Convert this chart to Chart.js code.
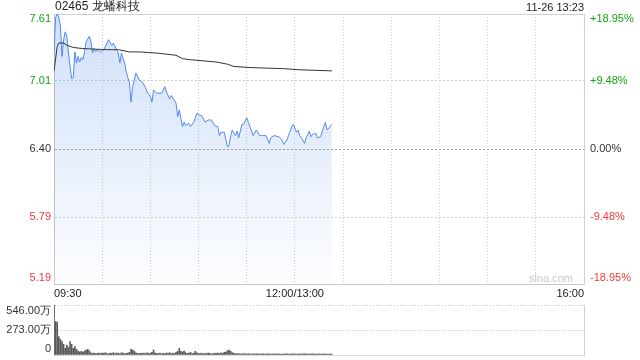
<!DOCTYPE html>
<html>
<head>
<meta charset="utf-8">
<script src="https://cdn.jsdelivr.net/npm/chart.js@4.4.0/dist/chart.umd.min.js"></script>
<style>
  body { margin: 0; background: #fff; }
  #wrap { position: relative; width: 640px; height: 360px; }
  #priceChart { position: absolute; left: 0; top: 0; }
  #volChart { position: absolute; left: 0; top: 300px; }
</style>
</head>
<body>
<div id="wrap">
  <canvas id="priceChart" width="640" height="300"></canvas>
  <canvas id="volChart" width="640" height="60"></canvas>
</div>
<script>
// minutes since 09:30 (lunch break removed)
const priceMinutes = [0, 1, 2, 3, 4, 5, 6, 7, 8, 9, 11, 12, 13, 14, 15, 16, 17, 18, 19, 20, 22, 23, 24, 25, 26, 27, 29, 31, 33, 34, 36, 37, 39, 40, 41, 42, 43, 44, 45, 47, 48, 49, 51, 53, 55, 57, 58, 60, 61, 62, 64, 67, 69, 70, 72, 73, 76, 77, 78, 80, 81, 82, 84, 85, 87, 89, 91, 92, 94, 96, 98, 100, 102, 103, 104, 106, 108, 109, 110, 111, 113, 114, 115, 117, 118, 120, 121, 122, 124, 126, 128, 130, 132, 134, 135, 137, 140, 142, 143, 145, 146, 148, 149, 151, 152, 153, 155, 156, 157, 159, 160, 161, 163, 164, 166, 168, 169, 170, 172, 173];
const priceValues = [7.26, 7.58, 7.61, 7.58, 7.50, 7.23, 7.38, 7.45, 7.41, 7.26, 7.03, 7.04, 7.27, 7.17, 7.23, 7.18, 7.22, 7.20, 7.27, 7.36, 7.41, 7.36, 7.26, 7.30, 7.27, 7.29, 7.27, 7.29, 7.35, 7.38, 7.33, 7.35, 7.29, 7.26, 7.17, 7.26, 7.21, 7.17, 7.09, 6.99, 6.82, 6.96, 7.08, 7.02, 7.00, 6.95, 6.91, 6.87, 6.82, 6.93, 6.90, 6.90, 6.96, 6.91, 6.85, 6.88, 6.81, 6.69, 6.75, 6.60, 6.64, 6.61, 6.63, 6.60, 6.64, 6.72, 6.70, 6.70, 6.64, 6.66, 6.66, 6.61, 6.60, 6.52, 6.55, 6.55, 6.42, 6.43, 6.52, 6.57, 6.52, 6.56, 6.50, 6.62, 6.62, 6.68, 6.64, 6.60, 6.52, 6.57, 6.52, 6.52, 6.52, 6.45, 6.50, 6.52, 6.51, 6.48, 6.44, 6.48, 6.52, 6.60, 6.62, 6.55, 6.57, 6.52, 6.48, 6.45, 6.50, 6.56, 6.51, 6.53, 6.54, 6.50, 6.51, 6.60, 6.64, 6.57, 6.60, 6.62];

const avgMinutes = [0, 2, 3, 6, 8, 12, 18, 33, 40, 47, 53, 64, 76, 80, 85, 101, 108, 112, 122, 143, 153, 173];
const avgValues = [7.10, 7.32, 7.35, 7.35, 7.33, 7.31, 7.30, 7.29, 7.29, 7.27, 7.27, 7.26, 7.24, 7.21, 7.20, 7.18, 7.16, 7.14, 7.13, 7.12, 7.11, 7.10];

// volume per minute, in 万
const volumeValues = [546, 364, 360, 200, 171, 146, 116, 73, 109, 84, 146, 116, 73, 91, 62, 44, 33, 40, 33, 44, 55, 62, 47, 25,
  18, 22, 15, 18, 20, 15, 22, 18, 25, 15, 12, 20, 18, 25, 15, 22, 18, 12, 25, 20, 15, 18, 22, 30,
  62, 55, 40, 25, 18, 15, 20, 18, 22, 15, 25, 18, 20, 30, 55, 22, 18, 15, 20, 12, 18, 15, 22, 18,
  25, 15, 20, 18, 30, 40, 73, 40, 33, 44, 25, 18, 22, 30, 15, 20, 40, 25, 18, 15, 20, 12, 18, 15,
  22, 18, 12, 15, 20, 18, 22, 15, 25, 18, 30, 33, 47, 55, 40, 25, 18, 15, 12, 15, 10, 12, 15, 12,
  10, 14, 12, 9, 13, 11, 15, 10, 12, 9, 14, 11, 10, 13, 12, 9, 11, 14, 10, 12, 13, 9, 11, 10,
  12, 14, 9, 11, 13, 10, 12, 9, 11, 13, 10, 12, 14, 9, 11, 10, 12, 13, 9, 11, 10, 12, 9, 11, 10, 12,
  11, 9, 12, 10];

const priceTicks = [5.19, 5.79, 6.40, 7.01, 7.61];
const priceLabels = ['5.19', '5.79', '6.40', '7.01', '7.61'];
const pctLabels = ['-18.95%', '-9.48%', '0.00%', '+9.48%', '+18.95%'];
const prevClose = 6.40;
const timeTicks = [0, 150, 330];
const timeLabels = ['09:30', '12:00/13:00', '16:00'];
const volTicks = [0, 273, 546];
const volLabels = ['0', '273.00万', '546.00万'];

const FONT = '"Liberation Sans", Arial, sans-serif';
const GREEN = '#16a316';
const RED = '#f23a3a';

function tickColor(v) {
  if (v > prevClose + 0.001) return GREEN;
  if (v < prevClose - 0.001) return RED;
  return '#333';
}

const priceText = {
  id: 'priceText',
  afterDraw(chart) {
    const { ctx, chartArea: a, scales } = chart;
    ctx.save();
    ctx.font = '11px ' + FONT;
    ctx.textBaseline = 'middle';
    priceTicks.forEach((v, i) => {
      let py = scales.y.getPixelForValue(v);
      py = Math.min(Math.max(py, a.top + 5), a.bottom - 6);
      ctx.fillStyle = tickColor(v);
      ctx.textAlign = 'right';
      ctx.fillText(priceLabels[i], a.left - 3, py);
      ctx.textAlign = 'left';
      ctx.fillText(pctLabels[i], a.right + 6, py);
    });
    ctx.fillStyle = '#222';
    timeTicks.forEach((t, i) => {
      const px = scales.x.getPixelForValue(t);
      ctx.textAlign = i === 0 ? 'left' : (i === timeTicks.length - 1 ? 'right' : 'center');
      ctx.fillText(timeLabels[i], px, a.bottom + 10);
    });
    ctx.textAlign = 'right';
    ctx.fillText('11-26 13:23', a.right, 8);
    ctx.fillStyle = '#c8c8c8';
    ctx.fillText('sina.com', a.right - 11, a.bottom - 5);
    ctx.font = '12px ' + FONT;
    ctx.fillStyle = '#222';
    ctx.textAlign = 'left';
    ctx.fillText('02465 龙蟠科技', a.left + 1, 7);
    ctx.restore();
  }
};

const volText = {
  id: 'volText',
  afterDraw(chart) {
    const { ctx, chartArea: a, scales } = chart;
    ctx.save();
    ctx.font = '11px ' + FONT;
    ctx.textBaseline = 'middle';
    ctx.textAlign = 'right';
    ctx.fillStyle = '#333';
    volTicks.forEach((v, i) => {
      let py = scales.y.getPixelForValue(v);
      py = Math.min(Math.max(py, a.top + 6), a.bottom - 6);
      ctx.fillText(volLabels[i], a.left - 3, py);
    });
    ctx.restore();
  }
};

var priceCtx = document.getElementById('priceChart').getContext('2d');
var priceChart = new Chart(priceCtx, {
  type: 'line',
  data: {
    datasets: [
      {
        label: '均价',
        data: avgMinutes.map((m, i) => ({ x: m, y: avgValues[i] })),
        borderColor: '#333',
        borderWidth: 1,
        pointRadius: 0,
        fill: false,
        tension: 0
      },
      {
        label: '价格',
        data: priceMinutes.map((m, i) => ({ x: m, y: priceValues[i] })),
        borderColor: '#5089ee',
        borderWidth: 1,
        pointRadius: 0,
        tension: 0,
        fill: 'start',
        backgroundColor: function (context) {
          const area = context.chart.chartArea;
          if (!area) return 'rgba(74,134,232,0.2)';
          const g = context.chart.ctx.createLinearGradient(0, area.top, 0, area.bottom);
          g.addColorStop(0, 'rgba(74,134,232,0.26)');
          g.addColorStop(1, 'rgba(74,134,232,0.01)');
          return g;
        }
      }
    ]
  },
  options: {
    responsive: false,
    animation: false,
    layout: { padding: { left: 54, right: 56, top: 14, bottom: 16 } },
    plugins: { legend: { display: false }, tooltip: { enabled: false } },
    scales: {
      x: {
        type: 'linear',
        min: 0,
        max: 330,
        ticks: { display: false, stepSize: 30 },
        grid: { color: '#cfcfcf', drawTicks: false },
        border: { display: true, color: '#c8c8c8', dash: [1, 2] }
      },
      xTop: {
        type: 'linear',
        position: 'top',
        min: 0,
        max: 330,
        ticks: { display: false },
        grid: { display: false, drawTicks: false },
        border: { display: true, color: '#d0d0d0' }
      },
      y: {
        min: 5.19,
        max: 7.61,
        afterBuildTicks: function (scale) {
          scale.ticks = priceTicks.map(v => ({ value: v }));
        },
        ticks: { display: false },
        grid: {
          drawTicks: false,
          color: function (c) {
            return c.tick && Math.abs(c.tick.value - prevClose) < 0.001 ? '#9a9a9a' : '#cfcfcf';
          }
        },
        border: { display: true, color: '#c8c8c8', dash: [2, 2] }
      },
      yRight: {
        position: 'right',
        min: 5.19,
        max: 7.61,
        ticks: { display: false },
        grid: { display: false, drawTicks: false },
        border: { display: true, color: '#d0d0d0' }
      }
    }
  },
  plugins: [priceText]
});

var volCtx = document.getElementById('volChart').getContext('2d');
var volChart = new Chart(volCtx, {
  type: 'bar',
  data: {
    datasets: [
      {
        label: '成交量',
        data: volumeValues.map((v, i) => ({ x: i, y: v })),
        backgroundColor: '#5a5a5a',
        barThickness: 1
      }
    ]
  },
  options: {
    responsive: false,
    animation: false,
    layout: { padding: { left: 54, right: 56, top: 5, bottom: 5 } },
    plugins: { legend: { display: false }, tooltip: { enabled: false } },
    scales: {
      x: {
        type: 'linear',
        min: 0,
        max: 330,
        offset: false,
        ticks: { display: false },
        grid: { display: false, drawTicks: false },
        border: { display: true, color: '#dcdcdc' }
      },
      y: {
        min: 0,
        max: 546,
        afterBuildTicks: function (scale) {
          scale.ticks = volTicks.map(v => ({ value: v }));
        },
        ticks: { display: false },
        grid: {
          drawTicks: false,
          color: function (c) { return c.index === 0 ? 'rgba(0,0,0,0)' : '#c8c8c8'; }
        },
        border: { display: true, color: '#c8c8c8', dash: [1, 2] }
      },
      yRight: {
        position: 'right',
        min: 0,
        max: 546,
        ticks: { display: false },
        grid: { display: false, drawTicks: false },
        border: { display: true, color: '#d0d0d0' }
      }
    }
  },
  plugins: [volText]
});
</script>
</body>
</html>
